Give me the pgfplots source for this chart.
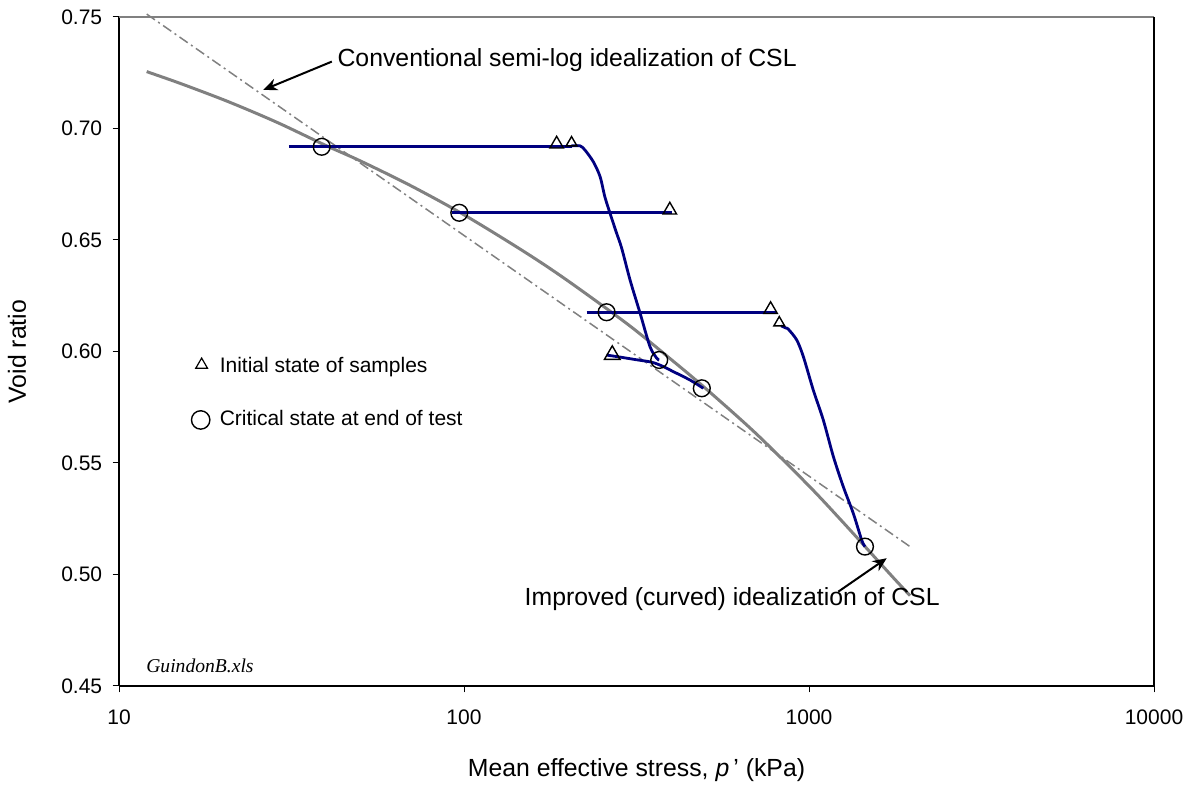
\documentclass[border=0pt]{standalone}
\usepackage{fontspec}
\setmainfont{Liberation Sans}
\newfontfamily\serifit{Liberation Serif}
\usepackage{pgfplots}
\pgfplotsset{compat=1.18}
\usetikzlibrary{arrows.meta}
\definecolor{pathblue}{HTML}{000080}
\definecolor{cslgray}{HTML}{808080}

\newcommand{\smallfont}{\fontsize{10.5pt}{12pt}\selectfont}
\newcommand{\largefont}{\fontsize{12.4pt}{15pt}\selectfont}

\begin{document}
\begin{tikzpicture}
\useasboundingbox (0,0) rectangle (597.5pt,392.5pt);
\begin{axis}[
  at={(59.5pt,49.5pt)}, anchor=south west,
  scale only axis, width=517.5pt, height=334.5pt,
  xmode=log, log basis x=10,
  xmin=10, xmax=10000, ymin=0.45, ymax=0.75,
  xtick={10,100,1000,10000}, xticklabels={10,100,1000,10000},
  ytick={0.45,0.50,0.55,0.60,0.65,0.70,0.75},
  xminorticks=false, yminorticks=false,
  axis x line*=bottom, axis y line*=left,
  axis line style={black, line width=0.65pt},
  tick align=outside, major tick length=3.25pt,
  every tick/.style={black, line width=0.5pt},
  tick label style={font=\smallfont},
  yticklabel style={/pgf/number format/fixed, /pgf/number format/fixed zerofill,
    /pgf/number format/precision=2, /pgf/number format/assume math mode=true},
  yticklabel style={anchor=east, inner sep=0pt, xshift=-5pt},
  xticklabel style={anchor=north, inner sep=0pt, yshift=-8.5pt},
  xlabel={Mean effective stress, \textit{p}\,'\ (kPa)},
  ylabel={Void ratio},
  every axis x label/.style={at={(axis description cs:0.5,0)}, anchor=center, yshift=-42pt, font=\largefont},
  every axis y label/.style={at={(axis description cs:-0.0986,0.5)}, anchor=center, rotate=90, font=\largefont},
  clip=false,
]

% plot frame: grey top edge, black right edge
\draw[cslgray, line width=0.75pt] (rel axis cs:0,1) -- (rel axis cs:1,1);
\draw[black, line width=0.65pt] (rel axis cs:1,0) -- (rel axis cs:1,1);

% improved (curved) critical state line
\addplot[cslgray, line width=1.5pt, smooth] coordinates {
  (12.03,0.7255) (15,0.7203) (20,0.7130) (25,0.7068) (30,0.7014)
  (40,0.6922) (50,0.6855) (70,0.6744) (100,0.6613) (150,0.6446)
  (200,0.6317) (300,0.6119) (400,0.5962) (500,0.5836) (700,0.5634)
  (1000,0.5397) (1250,0.5237) (1500,0.5102) (1750,0.4988) (1963,0.4905)
};

% conventional semi-log critical state line
\addplot[cslgray, line width=0.75pt, dash pattern=on 5pt off 2pt on 1pt off 2pt] coordinates {
  (12.03,0.7513) (1963,0.5125)
};

% stress paths
\addplot[pathblue, line width=1.4pt] coordinates {(31.1,0.6918) (205,0.6918)};
\addplot[pathblue, line width=1.4pt, smooth] coordinates {
  (205,0.6922) (217,0.6922) (224,0.6904) (237,0.6851) (248,0.6784)
  (256,0.6694) (265,0.6620) (277,0.6530) (286.5,0.6463) (303,0.6320)
  (324,0.6171) (346,0.6022) (362,0.5970) (368,0.5962)
};
\addplot[pathblue, line width=1.4pt] coordinates {(92.1,0.6622) (400,0.6622)};
\addplot[pathblue, line width=1.4pt] coordinates {(226.7,0.6176) (806,0.6176)};
\addplot[pathblue, line width=1.4pt, smooth] coordinates {
  (830,0.6115) (861,0.6104) (871,0.6100) (921,0.6052) (963,0.5977)
  (1029,0.5827) (1100,0.5693) (1177,0.5528) (1257,0.5394) (1344,0.5274)
  (1421,0.5155) (1453,0.5125)
};
\addplot[pathblue, line width=1.4pt, smooth] coordinates {
  (259,0.5984) (283,0.5975) (316,0.5963) (350,0.5952) (375,0.5935)
  (404,0.5910) (452,0.5872) (494,0.5835)
};

% initial states
\addplot[only marks, mark=triangle, mark size=3.9pt, mark options={black, line width=0.7pt, fill=none}]
  coordinates {(185.6,0.6930) (395,0.6634) (774,0.6188)};
\addplot[only marks, mark=triangle, mark size=4.5pt, mark options={black, line width=0.7pt, fill=none}]
  coordinates {(269,0.5985)};
\addplot[only marks, mark=triangle, mark size=3.1pt, mark options={black, line width=0.7pt, fill=none}]
  coordinates {(205,0.6936) (820,0.6129)};

% critical states at end of test
\addplot[only marks, mark=o, mark size=4.2pt, mark options={black, line width=0.7pt}]
  coordinates {(38.7,0.6918) (96.9,0.6622) (259,0.6176) (368,0.5962) (489,0.5835) (1453,0.5125)};

% key
\addplot[only marks, mark=triangle, mark size=3.4pt, mark options={black, line width=0.6pt}]
  coordinates {(17.36,0.5940)};
\addplot[only marks, mark=o, mark size=4.6pt, mark options={black, line width=0.7pt}]
  coordinates {(17.25,0.5693)};
\node[anchor=west, inner sep=0pt, font=\smallfont] at (axis cs:19.54,0.5932) {Initial state of samples};
\node[anchor=west, inner sep=0pt, font=\smallfont] at (axis cs:19.54,0.5700) {Critical state at end of test};

% annotations
\draw[black, line width=1pt, -{Stealth[length=7pt, width=6pt]}] (axis cs:41.4,0.7300) -- (axis cs:26.2,0.7173);
\node[anchor=west, inner sep=0pt, font=\largefont] at (axis cs:42.9,0.7307) {Conventional semi-log idealization of CSL};
\draw[black, line width=1pt, -{Stealth[length=7pt, width=6pt]}] (axis cs:1216,0.4923) -- (axis cs:1680,0.5073);
\node[anchor=base east, inner sep=0pt, font=\largefont] at (axis cs:2398,0.4859) {Improved (curved) idealization of CSL};

\node[anchor=west, inner sep=0pt, font=\fontsize{9.8pt}{11pt}\serifit\itshape] at (axis cs:11.97,0.4590) {GuindonB.xls};

\end{axis}
\end{tikzpicture}
\end{document}
